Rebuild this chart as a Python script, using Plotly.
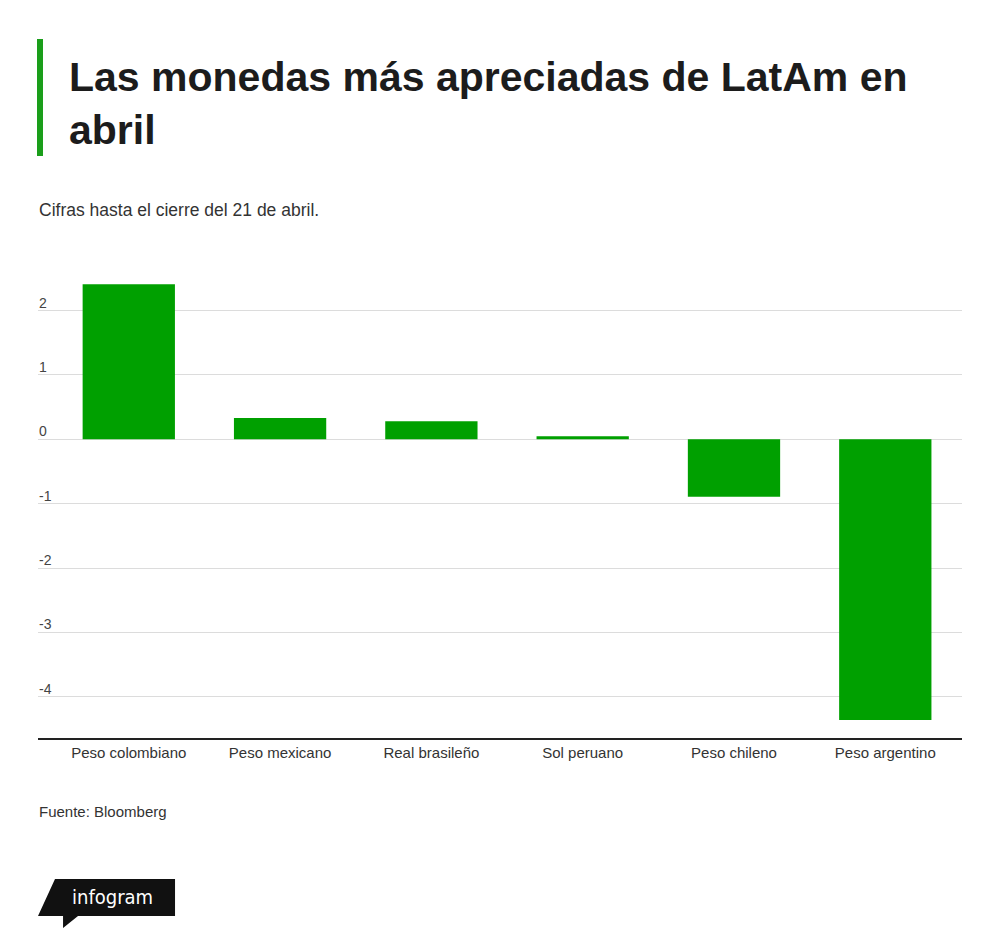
import plotly.graph_objects as go

# data
currencies = [
    "Peso colombiano",
    "Peso mexicano",
    "Real brasileño",
    "Sol peruano",
    "Peso chileno",
    "Peso argentino",
]
change_pct = [2.41, 0.33, 0.28, 0.05, -0.89, -4.36]

tick_vals = [2, 1, 0, -1, -2, -3, -4]
tick_text = ["2", "1", "0", "-1", "-2", "-3", "-4"]

GREEN = "#00a000"
FONT = "Liberation Sans, Arial, sans-serif"

# page puts the figure 8px in from the top-left corner
OFF = 8
W, H = 992, 940
L, R, T, B = 38 - OFF, 962 - OFF, 272 - OFF, 738 - OFF


def px(x):
    # screen x -> paper x
    return (x - OFF - L) / (R - L)


def py(y):
    # screen y -> paper y
    return (B - (y - OFF)) / (B - T)


fig = go.Figure()
fig.add_trace(
    go.Bar(
        x=list(range(len(currencies))),
        y=change_pct,
        marker=dict(color=GREEN, line=dict(width=0)),
        hovertemplate="%{customdata}: %{y}<extra></extra>",
        customdata=currencies,
    )
)

# infogram badge
logo = [(55, 879), (175, 879), (175, 916), (78, 916), (63, 928), (63, 916), (38, 916)]
logo_path = "M " + " L ".join(f"{px(x):.4f},{py(y):.4f}" for x, y in logo) + " Z"

fig.update_layout(
    width=W,
    height=H,
    margin=dict(l=L, r=W - R, t=T, b=H - B),
    paper_bgcolor="white",
    plot_bgcolor="white",
    showlegend=False,
    bargap=0.39,
    font=dict(family=FONT, color="#333333"),
    xaxis=dict(
        range=[-0.6, 5.507],
        tickvals=list(range(len(currencies))),
        ticktext=currencies,
        tickfont=dict(size=15, color="#333333"),
        showgrid=False,
        zeroline=False,
        showline=True,
        linecolor="#222222",
        linewidth=2,
        ticks="",
        fixedrange=True,
    ),
    yaxis=dict(
        range=[-4.64, 2.6],
        tickvals=tick_vals,
        ticktext=tick_text,
        tickfont=dict(size=14, color="#444444"),
        ticklabelposition="inside",
        ticklabelshift=-8,
        ticklabelstandoff=-2,
        showgrid=True,
        gridcolor="#dcdcdc",
        gridwidth=1,
        zeroline=True,
        zerolinecolor="#dcdcdc",
        zerolinewidth=1,
        ticks="",
        fixedrange=True,
    ),
    shapes=[
        dict(
            type="rect", xref="paper", yref="paper",
            x0=px(37), x1=px(43), y0=py(39), y1=py(156),
            fillcolor="#1a9e1a", line=dict(width=0),
        ),
        dict(
            type="path", xref="paper", yref="paper",
            path=logo_path, fillcolor="#111111", line=dict(width=0),
        ),
    ],
    annotations=[
        dict(
            text="<b>Las monedas más apreciadas de LatAm en<br>abril</b>",
            xref="paper", yref="paper", x=px(67), y=py(52),
            xanchor="left", yanchor="top", align="left", showarrow=False,
            font=dict(size=41, color="#1c1c1c", family=FONT),
        ),
        dict(
            text="Cifras hasta el cierre del 21 de abril.",
            xref="paper", yref="paper", x=px(37), y=py(210),
            xanchor="left", yanchor="middle", showarrow=False,
            font=dict(size=17.5, color="#333333"),
        ),
        dict(
            text="Fuente: Bloomberg",
            xref="paper", yref="paper", x=px(37), y=py(811),
            xanchor="left", yanchor="middle", showarrow=False,
            font=dict(size=15, color="#333333"),
        ),
        dict(
            text="infogram",
            xref="paper", yref="paper", x=px(112), y=py(897),
            xanchor="center", yanchor="middle", showarrow=False,
            font=dict(size=20, color="white", family="DejaVu Sans Condensed, Roboto, sans-serif"),
        ),
    ],
)

fig.write_html("out.html")
